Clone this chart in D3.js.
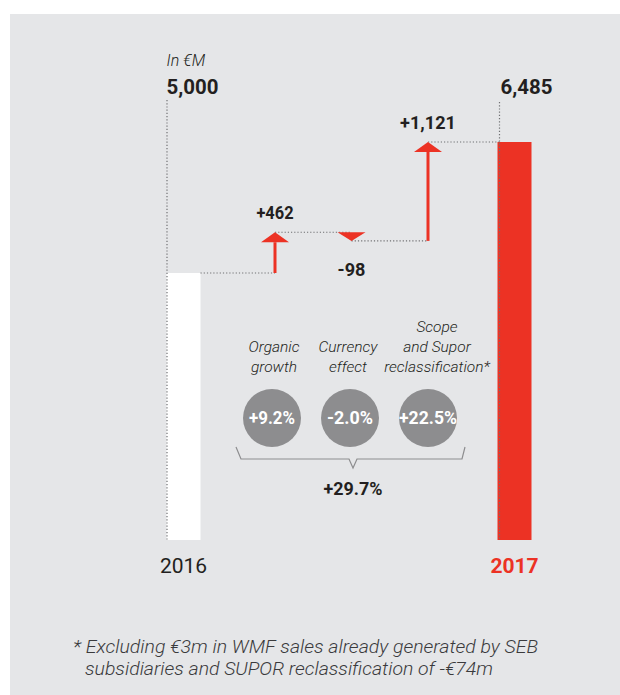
<!DOCTYPE html>
<html>
<head>
<meta charset="utf-8">
<script src="https://cdn.jsdelivr.net/npm/d3@7"></script>
<style>
  body { margin: 0; background: #fff; }
  svg text { font-family: Roboto, "Liberation Sans", sans-serif; }
</style>
</head>
<body>
<div id="chart"></div>
<script>
// sales bridge 2016 -> 2017, in EUR m
const totals = ["2016", "2017"];
const driverSteps = ["organic", "currency", "scope"];
const startValue = 5000;
const deltas = [462, -98, 1121];
const endValue = 6485;
const totalLabels = ["5,000", "6,485"];
const deltaLabels = ["+462", "-98", "+1,121"];
const driverNames = [["Organic", "growth"], ["Currency", "effect"], ["Scope", "and Supor", "reclassification*"]];
const growthLabels = ["+9.2%", "-2.0%", "+22.5%"];
const totalGrowth = "+29.7%";
const footnote = ["* Excluding €3m in WMF sales already generated by SEB",
                  "subsidiaries and SUPOR reclassification of -€74m"];

const red = "#ec3224";
const dark = "#231f20";
const dotGrey = "#6f7072";

const width = 620, height = 695;
const barW = 34;
const baseY = 540;

const svg = d3.select("#chart").append("svg")
  .attr("width", width)
  .attr("height", height);

svg.append("rect")
  .attr("x", 10).attr("y", 14)
  .attr("width", 610).attr("height", 681)
  .attr("fill", "#e5e6e8");

const x = d3.scalePoint().domain(totals).range([183.5, 514.5]);
const xd = d3.scalePoint().domain(driverSteps).range([275, 428]);
// broken axis: only the range 5,000 -> 6,485 is to scale
const y = d3.scaleLinear().domain([startValue, endValue]).range([273, 142]);

// running totals
let levels = [startValue];
deltas.forEach(d => levels.push(levels[levels.length - 1] + d));

const bars = [
  { step: totals[0], value: startValue, fill: "#ffffff", label: totalLabels[0] },
  { step: totals[1], value: endValue, fill: red, label: totalLabels[1] }
];

svg.selectAll("rect.bar")
  .data(bars)
  .enter()
  .append("rect")
    .attr("class", "bar")
    .attr("x", d => x(d.step) - barW / 2)
    .attr("width", barW)
    .attr("y", d => y(d.value))
    .attr("height", d => baseY - y(d.value))
    .attr("fill", d => d.fill);

const dotted = g => g.attr("stroke", dotGrey).attr("stroke-width", 1.2)
  .attr("stroke-dasharray", "1.2,2").attr("fill", "none");

// vertical guides on the totals
svg.append("line").call(dotted)
  .attr("x1", x(totals[0]) - barW / 2 + 0.5).attr("x2", x(totals[0]) - barW / 2 + 0.5)
  .attr("y1", 100).attr("y2", baseY);
svg.append("line").call(dotted)
  .attr("x1", x(totals[1]) - barW / 2 + 2).attr("x2", x(totals[1]) - barW / 2 + 2)
  .attr("y1", 102).attr("y2", baseY);

// horizontal connectors
const connectors = [
  { x1: x(totals[0]) + barW / 2, x2: xd(driverSteps[0]), v: levels[0] },
  { x1: xd(driverSteps[0]), x2: xd(driverSteps[1]), v: levels[1] },
  { x1: xd(driverSteps[1]), x2: xd(driverSteps[2]), v: levels[2] },
  { x1: xd(driverSteps[2]), x2: x(totals[1]) - barW / 2 + 2, v: levels[3] }
];
svg.selectAll("line.conn")
  .data(connectors)
  .enter()
  .append("line")
    .attr("class", "conn")
    .call(dotted)
    .attr("x1", d => d.x1).attr("x2", d => d.x2)
    .attr("y1", d => y(d.v)).attr("y2", d => y(d.v));

// arrows
const arrows = deltas.map((d, i) => ({
  step: driverSteps[i], from: levels[i], to: levels[i + 1], delta: d, label: deltaLabels[i]
}));

const arrowG = svg.selectAll("g.arrow")
  .data(arrows)
  .enter()
  .append("g")
    .attr("class", "arrow");

arrowG.each(function(d) {
  const g = d3.select(this);
  const cx = xd(d.step);
  const y0 = y(d.from), y1 = y(d.to);
  const dir = d.delta > 0 ? 1 : -1;
  const headH = Math.min(10, Math.abs(y1 - y0));
  const headBase = y1 + dir * headH;
  if (Math.abs(y1 - y0) > headH) {
    g.append("line")
      .attr("x1", cx).attr("x2", cx)
      .attr("y1", y0).attr("y2", headBase)
      .attr("stroke", red).attr("stroke-width", 3);
  }
  g.append("path")
    .attr("d", `M${cx - 14},${headBase}L${cx},${y1}L${cx + 14},${headBase}Z`)
    .attr("fill", red);
  g.append("text")
    .attr("x", cx)
    .attr("y", d.delta > 0 ? y1 - 13 : y1 + 35)
    .attr("text-anchor", "middle")
    .attr("font-size", 19)
    .attr("font-weight", 700)
    .attr("fill", dark)
    .attr("textLength", d.label.length * 9.3)
    .attr("lengthAdjust", "spacingAndGlyphs")
    .text(d.label);
});

// total labels
svg.append("text")
  .attr("x", x(totals[0]) - barW / 2).attr("y", 66)
  .attr("font-size", 16).attr("font-style", "italic").attr("font-weight", 300)
  .attr("fill", dark)
  .text("In €M");

svg.selectAll("text.total")
  .data(bars)
  .enter()
  .append("text")
    .attr("class", "total")
    .attr("x", (d, i) => x(d.step) - barW / 2 + (i === 1 ? 3 : 0))
    .attr("y", 94)
    .attr("font-size", 21).attr("font-weight", 700)
    .attr("fill", dark)
    .attr("textLength", 52).attr("lengthAdjust", "spacingAndGlyphs")
    .text(d => d.label);

// year labels
svg.selectAll("text.year")
  .data(bars)
  .enter()
  .append("text")
    .attr("class", "year")
    .attr("x", d => x(d.step))
    .attr("y", 573)
    .attr("text-anchor", "middle")
    .attr("font-size", 21)
    .attr("font-weight", d => d.step === "2017" ? 700 : 400)
    .attr("fill", d => d.step === "2017" ? red : dark)
    .text(d => d.step);

// growth drivers
const drivers = driverNames.map((n, i) => ({ step: driverSteps[i], lines: n, pct: growthLabels[i] }));
const circleX = d => xd(d.step) - 3 + driverSteps.indexOf(d.step) * 1.5;

svg.selectAll("circle.driver")
  .data(drivers)
  .enter()
  .append("circle")
    .attr("class", "driver")
    .attr("cx", circleX)
    .attr("cy", 418)
    .attr("r", 29)
    .attr("fill", "#8d8d8f");

svg.selectAll("text.pct")
  .data(drivers)
  .enter()
  .append("text")
    .attr("class", "pct")
    .attr("x", circleX)
    .attr("y", 424)
    .attr("text-anchor", "middle")
    .attr("font-size", 18)
    .attr("font-weight", 700)
    .attr("fill", "#ffffff")
    .attr("textLength", d => d.pct.length === 6 ? 58 : 46)
    .attr("lengthAdjust", "spacingAndGlyphs")
    .text(d => d.pct);

svg.selectAll("text.driverName")
  .data(drivers)
  .enter()
  .append("text")
    .attr("class", "driverName")
    .attr("x", (d, i) => circleX(d) + [2, -2, 9][i])
    .attr("y", d => 372 - (d.lines.length - 1) * 20)
    .attr("text-anchor", "middle")
    .attr("font-size", 15.5)
    .attr("font-style", "italic")
    .attr("font-weight", 300)
    .attr("fill", dark)
    .selectAll("tspan")
    .data(d => d.lines)
    .enter()
    .append("tspan")
      .attr("x", function() { return d3.select(this.parentNode).attr("x"); })
      .attr("dy", (d, i) => i === 0 ? 0 : 20)
      .text(d => d);

// bracket under the circles
const bl = circleX(drivers[0]) - 36, br = circleX(drivers[2]) + 37, bm = circleX(drivers[1]) + 3;
svg.append("path")
  .attr("d", `M${bl},447L${bl + 5},459L${bm - 4},459L${bm},468L${bm + 4},459L${br - 3},459L${br},447`)
  .attr("fill", "none")
  .attr("stroke", "#8d8d8f")
  .attr("stroke-width", 1.2);

svg.append("text")
  .attr("x", bm).attr("y", 495)
  .attr("text-anchor", "middle")
  .attr("font-size", 19).attr("font-weight", 700)
  .attr("fill", dark)
  .attr("textLength", 59).attr("lengthAdjust", "spacingAndGlyphs")
  .text(totalGrowth);

// footnote
svg.selectAll("text.note")
  .data(footnote)
  .enter()
  .append("text")
    .attr("class", "note")
    .attr("x", (d, i) => i === 0 ? 73 : 85)
    .attr("y", (d, i) => 653 + i * 22)
    .attr("font-size", 19)
    .attr("font-style", "italic")
    .attr("font-weight", 300)
    .attr("fill", "#3a3a3c")
    .attr("textLength", (d, i) => i === 0 ? 465 : 408)
    .attr("lengthAdjust", "spacingAndGlyphs")
    .text(d => d);
</script>
</body>
</html>
